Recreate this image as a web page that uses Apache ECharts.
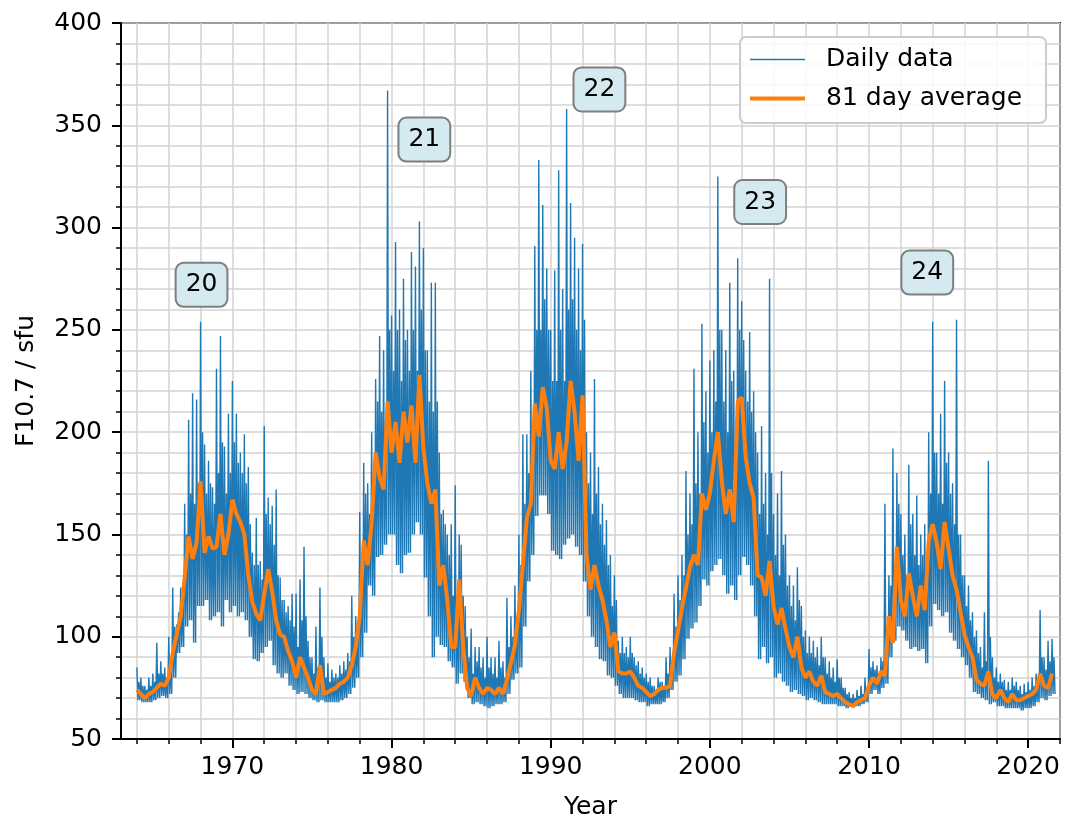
<!DOCTYPE html>
<html><head><meta charset="utf-8">
<script src="https://cdn.jsdelivr.net/npm/echarts@6/dist/echarts.min.js"></script>
<style>html,body{margin:0;padding:0;background:#fff}#c{width:1066px;height:818px}</style>
</head><body><div id="c"></div>
<script>
// Quarterly samples starting at 1964.0, step 0.25 year
const startYear = 1964;
const stepYears = 0.25;

// Highest daily F10.7 value per quarter (flare spikes)
const dailyHigh = [
  85, 80, 76, 80,   82, 97, 88, 85,   100, 124, 106, 124,   165, 206, 219, 216,
  254, 194, 186, 173,   231, 247, 193, 209,   225, 209, 190, 199,   183, 141, 158, 137,
  203, 168, 164, 172,   129, 118, 115, 121,   121, 128, 144, 98,   90, 105, 124, 90,
  87, 84, 82, 86,   88, 92, 120, 110,   161, 185, 175, 200,   226, 247, 240, 367,
  257, 293, 260, 275,   250, 288, 281, 303,   290, 240, 273, 273,   190, 162, 150, 155,
  174, 150, 120, 100,   104, 95, 95, 90,   100, 90, 90, 98,   88, 119, 110, 125,
  150, 199, 199, 230,   291, 333, 311, 280,   250, 279, 328, 270,   358, 312, 295, 280,
  292, 200, 190, 226,   183, 165, 157, 140,   130, 98, 100, 95,   100, 90, 88, 85,
  82, 80, 76, 80,   78, 90, 95, 121,   130, 140, 181, 170,   231, 200, 253, 220,
  235, 240, 325, 250,   240, 273, 230, 285,   264, 230, 249, 220,   190, 203, 180, 275,
  160, 170, 181, 150,   130, 125, 134, 115,   103, 100, 98, 95,   100, 90, 88, 85,
  89, 80, 75, 73,   72, 74, 76, 80,   94, 88, 86, 90,   165, 130, 192, 180,
  160, 150, 184, 160,   169, 150, 155, 200,   254, 190, 209, 225,   190, 175, 255, 150,
  130, 125, 112, 103,   95, 112, 186, 90,   85, 82, 79, 78,   80, 78, 76, 77,
  78, 80, 82, 113,   90, 98, 99
];

// Upper edge of the dense part of the daily values per quarter
const dailyTypical = [
  78, 76, 74, 76,   78, 82, 82, 80,   88, 105, 112, 120,   150, 170, 165, 175,
  200, 170, 175, 165,   180, 195, 170, 180,   195, 185, 180, 175,   155, 135, 135, 128,
  160, 155, 145, 130,   118, 112, 108, 105,   95, 108, 110, 90,   82, 85, 100, 80,
  78, 80, 80, 82,   84, 88, 100, 105,   140, 170, 160, 180,   215, 210, 205, 250,
  230, 250, 225, 245,   230, 250, 230, 260,   240, 215, 210, 215,   160, 155, 140, 120,
  120, 145, 115, 90,   82, 88, 85, 80,   85, 82, 80, 85,   80, 95, 100, 110,
  135, 165, 180, 200,   250, 250, 265, 250,   225, 225, 250, 225,   260, 265, 250, 240,
  255, 175, 160, 170,   155, 145, 135, 115,   118, 92, 92, 90,   92, 86, 82, 80,
  78, 76, 74, 78,   76, 82, 85, 105,   118, 130, 150, 155,   175, 170, 205, 190,
  200, 215, 250, 215,   200, 225, 200, 250,   245, 215, 210, 200,   160, 165, 150, 180,
  140, 130, 145, 125,   115, 108, 118, 100,   92, 92, 90, 86,   90, 82, 80, 78,
  80, 75, 72, 70,   70, 71, 72, 75,   85, 84, 82, 88,   95, 125, 120, 165,
  140, 130, 155, 140,   135, 140, 135, 170,   190, 170, 165, 185,   170, 155, 150, 130,
  115, 108, 100, 92,   85, 88, 100, 80,   78, 78, 74, 74,   76, 74, 72, 73,
  74, 76, 78, 90,   84, 88, 90
];

// Lowest daily F10.7 value per quarter
const dailyLow = [
  69, 68, 68, 68,   69, 70, 71, 70,   72, 80, 92, 95,   105, 108, 97, 115,
  115, 118, 108, 110,   112, 105, 118, 112,   115, 110, 112, 108,   100, 89, 88, 92,
  95, 98, 86, 82,   80, 82, 76, 74,   72, 73, 72, 70,   69, 68, 69, 68,
  68, 68, 68, 69,   70, 72, 75, 80,   90, 102, 125, 120,   139, 140, 145, 150,
  150, 135, 131, 140,   141, 150, 156, 150,   129, 110, 90, 100,   96, 95, 88, 85,
  77, 82, 78, 70,   67, 68, 67, 66,   65, 66, 67, 67,   68, 72, 79, 82,
  85, 105, 127, 140,   159, 169, 169, 160,   142, 140, 138, 145,   148, 150, 144, 140,
  127, 110, 100, 95,   89, 88, 81, 80,   76, 72, 70, 70,   70, 69, 68, 68,
  66, 67, 67, 67,   68, 70, 74, 78,   81, 89, 99, 104,   107, 115, 128, 125,
  132, 135, 138, 130,   121, 125, 118, 130,   139, 135, 125, 110,   89, 95, 87, 90,
  80, 82, 78, 76,   73, 74, 72, 71,   69, 70, 69, 68,   67, 67, 67, 67,
  66, 66, 65, 66,   66, 66, 67, 68,   72, 74, 72, 75,   77, 90, 98, 105,
  103, 98, 94, 95,   93, 94, 87, 105,   116, 113, 110, 112,   102, 98, 94, 90,
  86, 80, 73, 72,   70, 69, 67, 68,   66, 66, 65, 65,   65, 65, 64, 65,
  65, 66, 68, 70,   69, 71, 72
];

// 81 day average per quarter
const avg81 = [
  74, 72, 70, 72,   73, 75, 77, 76,   80, 92, 101, 110,   129, 149, 138, 146,
  176, 141, 149, 143,   144, 160, 140, 150,   167, 160, 156, 150,   130, 117, 111, 108,
  121, 133, 122, 108,   101, 100, 93, 88,   80, 90, 85, 80,   74, 72, 86, 72,
  73, 74, 75, 77,   78, 80, 86, 95,   110, 147, 135, 156,   190, 178, 172, 215,
  190, 205, 185, 210,   195, 213, 185, 228,   192, 175, 165, 172,   125, 135, 118, 95,
  95, 128, 95, 75,   71, 80, 75, 72,   75, 74, 72, 75,   72, 79, 87, 96,
  113, 135, 158, 165,   214, 198, 222, 212,   186, 182, 200, 182,   195, 225, 210, 186,
  218, 140, 123, 135,   125, 118, 108, 95,   102, 83, 82, 82,   83, 80, 76, 75,
  73, 71, 72, 74,   75, 75, 76, 92,   103, 114, 124, 134,   140, 135, 170, 162,
  170, 186, 200, 176,   160, 172, 156, 215,   217, 188, 175, 168,   130, 129, 120, 137,
  115, 106, 114, 104,   95, 90, 100, 85,   80, 83, 78, 76,   81, 73, 72, 71,
  72, 70, 68, 67,   66, 68, 69, 70,   76, 80, 77, 83,   81, 110, 97, 144,
  118, 110, 131, 120,   110, 125, 113, 147,   155, 146, 133, 156,   143, 130, 123, 112,
  101, 95, 90, 79,   77, 76, 83, 72,   70, 74, 70, 68,   72, 69, 69, 70,
  71, 72, 74, 82,   76, 75, 82
];

const majorYears = [1970, 1980, 1990, 2000, 2010, 2020];
const minorYears = [1964, 1966, 1968, 1970, 1972, 1974, 1976, 1978, 1980, 1982, 1984, 1986, 1988,
  1990, 1992, 1994, 1996, 1998, 2000, 2002, 2004, 2006, 2008, 2010, 2012, 2014, 2016, 2018, 2020, 2022];

const cycleNames = ['20', '21', '22', '23', '24'];
const cycleX = [1968.06, 1982.06, 1993.06, 2003.16, 2013.66];
const cycleY = [272, 343, 367.5, 312.5, 278];

// Daily series: within each quarter go high spike -> low -> dense upper edge -> low
const dailyPoints = [];
dailyHigh.forEach((h, i) => {
  const t = startYear + i * stepYears;
  dailyPoints.push([t, h]);
  dailyPoints.push([t + stepYears / 4, dailyLow[i]]);
  dailyPoints.push([t + stepYears / 2, dailyTypical[i]]);
  dailyPoints.push([t + stepYears * 3 / 4, dailyLow[i]]);
});
const avgPoints = avg81.map((v, i) => [startYear + i * stepYears, v]);

const font = 'DejaVu Sans';
const chart = echarts.init(document.getElementById('c'), null, {renderer: 'canvas'});
chart.setOption({
  animation: false,
  backgroundColor: '#fff',
  textStyle: {fontFamily: font},
  grid: {left: 121, right: 6, top: 23, bottom: 79, show: true, borderColor: '#000', borderWidth: 2,
    backgroundColor: 'transparent', containLabel: false, outerBoundsMode: 'none'},
  xAxis: [{
    type: 'value', min: 1963, max: 2022,
    name: 'Year', nameLocation: 'middle', nameGap: 56,
    nameTextStyle: {fontSize: 25, color: '#000', fontFamily: font},
    axisLine: {show: true, onZero: false, lineStyle: {color: '#000', width: 2}},
    axisTick: {show: true, customValues: majorYears, length: 9, lineStyle: {color: '#000', width: 2}},
    axisLabel: {show: true, customValues: majorYears, fontSize: 25, color: '#000', margin: 16, fontFamily: font,
      formatter: v => String(Math.round(v))},
    splitLine: {show: false}
  }, {
    type: 'value', min: 1963, max: 2022, position: 'bottom',
    axisLine: {show: false, onZero: false},
    axisTick: {show: true, customValues: minorYears, length: 5, lineStyle: {color: '#000', width: 1.5}},
    axisLabel: {show: false},
    splitLine: {show: true, lineStyle: {color: '#d3d3d3', width: 1.5}}
  }],
  yAxis: {
    type: 'value', min: 50, max: 400, interval: 50,
    name: 'F10.7 / sfu', nameLocation: 'middle', nameGap: 82,
    nameTextStyle: {fontSize: 25, color: '#000', fontFamily: font},
    axisLine: {show: true, lineStyle: {color: '#000', width: 2}},
    axisTick: {show: true, length: 9, lineStyle: {color: '#000', width: 2}},
    minorTick: {show: true, splitNumber: 5, length: 5, lineStyle: {color: '#000', width: 1.5}},
    axisLabel: {fontSize: 25, color: '#000', margin: 19, fontFamily: font},
    splitLine: {show: true, lineStyle: {color: '#d3d3d3', width: 1.5}},
    minorSplitLine: {show: true, lineStyle: {color: '#d3d3d3', width: 1.5}}
  },
  legend: {
    orient: 'vertical', left: 740, top: 37,
    padding: [10, 24, 12, 10], itemGap: 14, itemWidth: 55, itemHeight: 25,
    backgroundColor: 'rgba(255,255,255,0.85)', borderColor: '#cccccc', borderWidth: 2, borderRadius: 6,
    textStyle: {fontSize: 25, color: '#000', fontFamily: font, padding: [0, 0, 0, 16]},
    data: [
      {name: 'Daily data', icon: 'path://M0,0H55V1.5H0Z', itemStyle: {color: '#1f77b4'}},
      {name: '81 day average', icon: 'path://M0,0H55V4H0Z', itemStyle: {color: '#ff7f0e'}}
    ]
  },
  series: [{
    type: 'line', name: 'Daily data', data: dailyPoints, symbol: 'none',
    lineStyle: {color: '#1f77b4', width: 1.4}, itemStyle: {color: '#1f77b4'}, z: 2
  }, {
    type: 'line', name: '81 day average', data: avgPoints, symbol: 'none',
    lineStyle: {color: '#ff7f0e', width: 4}, itemStyle: {color: '#ff7f0e'}, z: 3
  }, {
    type: 'scatter', name: 'cycles', silent: true, z: 10,
    data: cycleNames.map((n, i) => ({name: n, value: [cycleX[i], cycleY[i]]})),
    symbolSize: 1, itemStyle: {color: 'rgba(0,0,0,0)'},
    label: {show: true, position: 'inside', formatter: p => p.name, fontSize: 25, color: '#000', fontFamily: font,
      textBorderWidth: 0, textBorderColor: 'transparent', opacity: 1,
      backgroundColor: '#d5e9f0', borderColor: '#7f7f7f', borderWidth: 2, borderRadius: 7,
      padding: [7, 9, 7, 9], lineHeight: 28}
  }]
});
</script></body></html>
